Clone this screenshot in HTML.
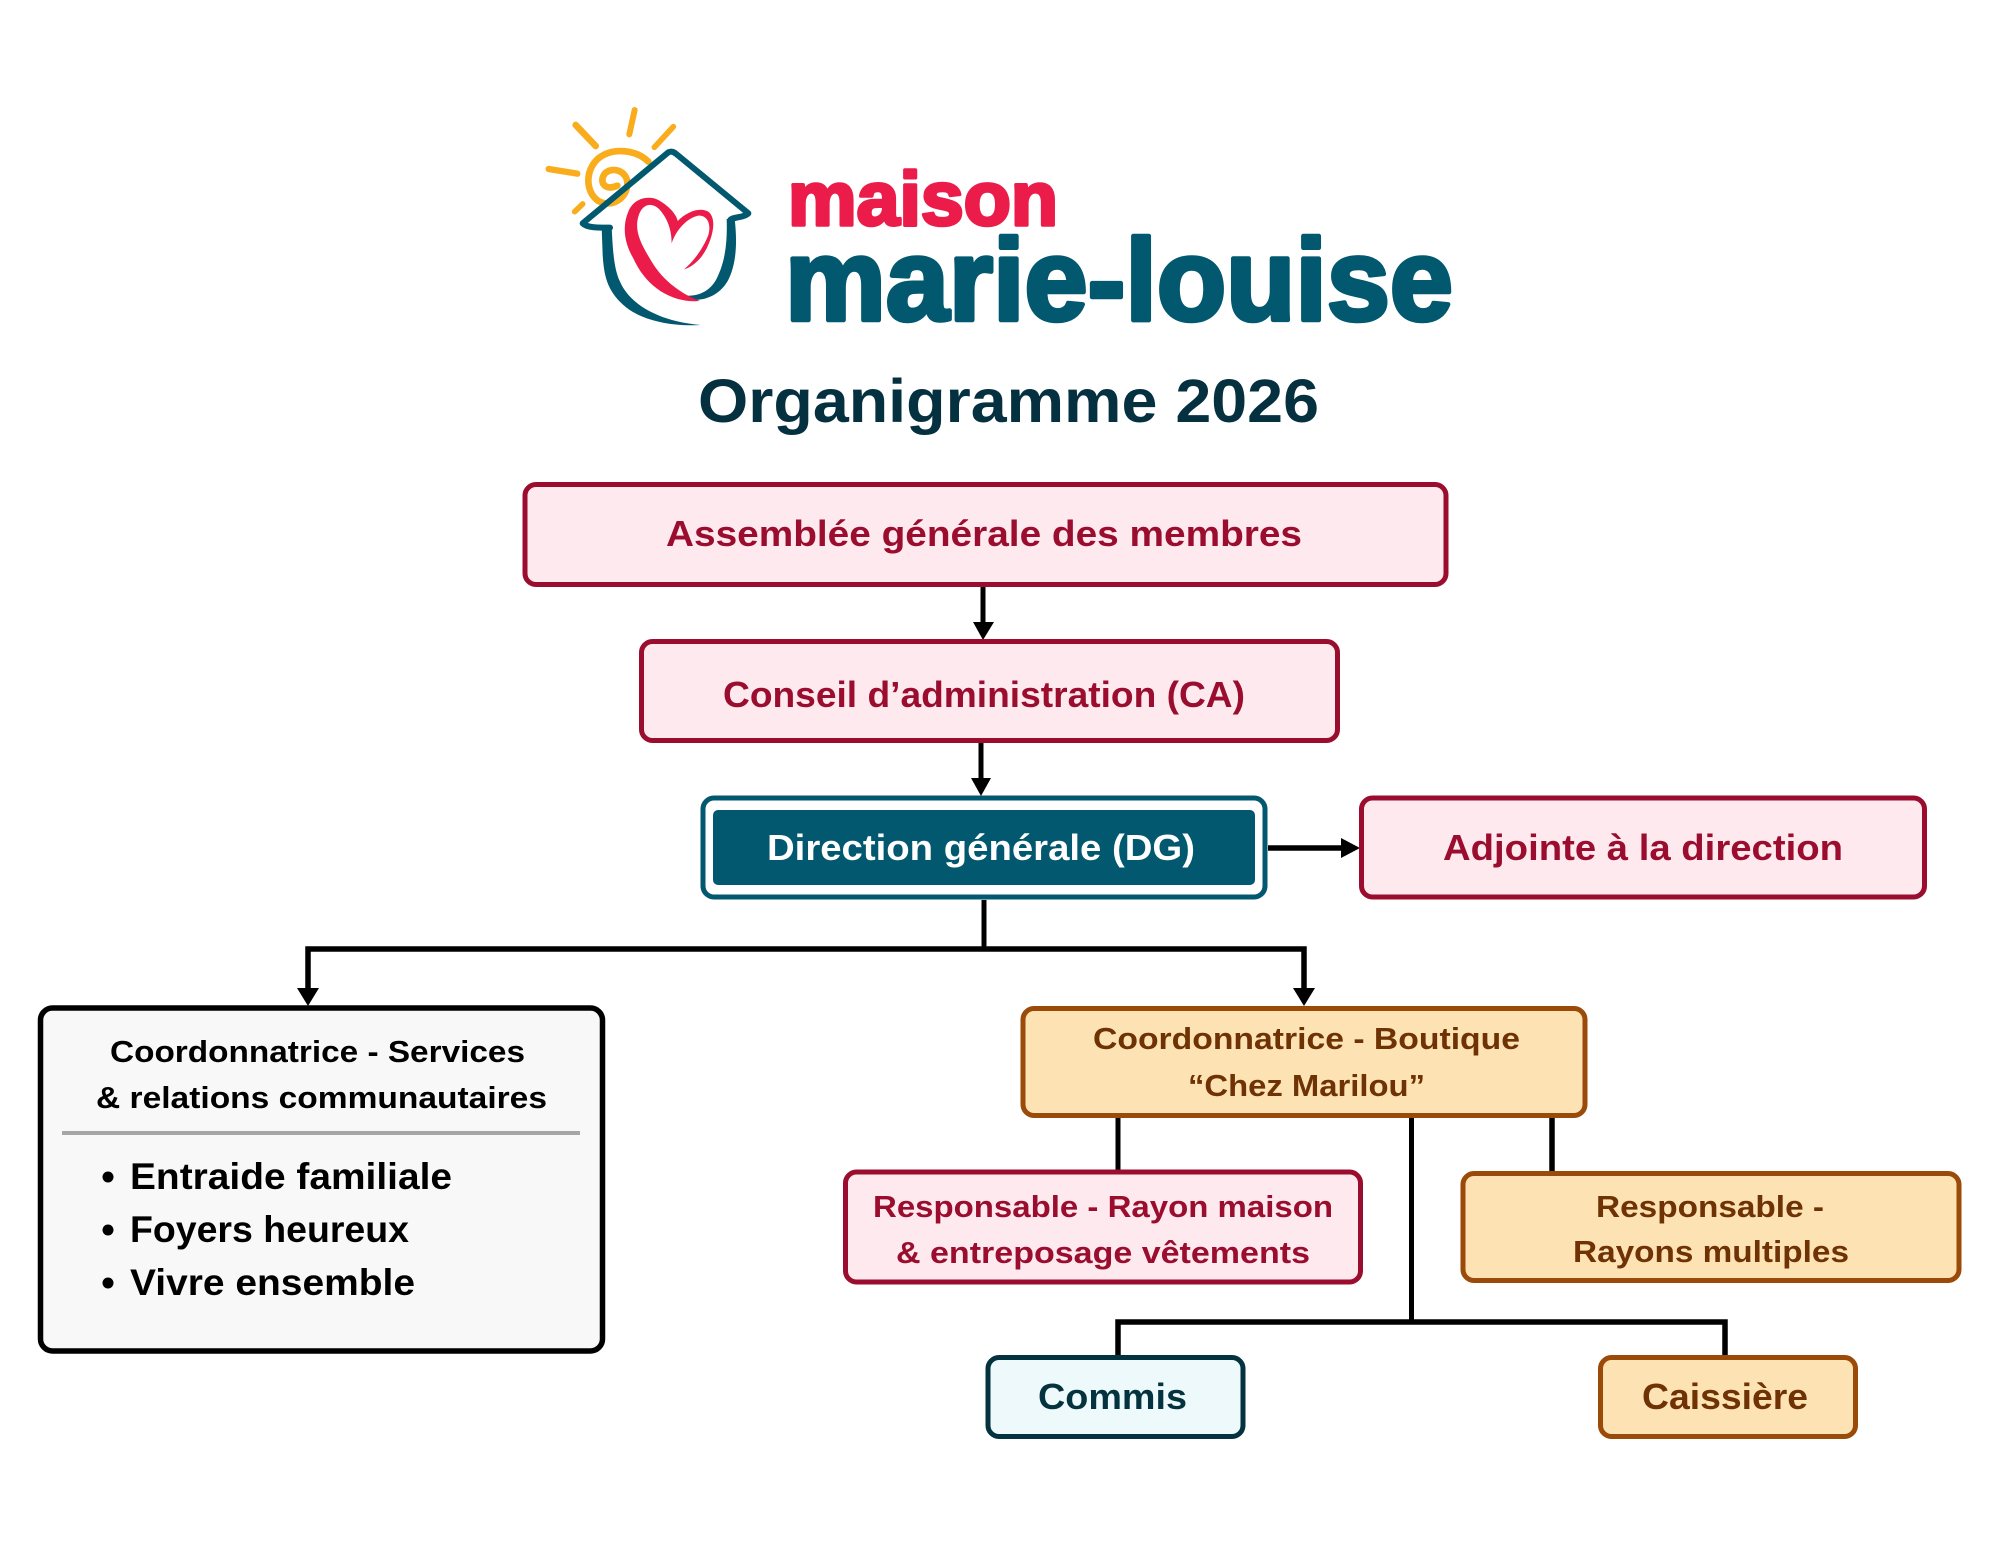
<!DOCTYPE html>
<html lang="fr"><head><meta charset="utf-8"><title>Organigramme 2026</title>
<style>html,body{margin:0;padding:0;background:#fff}svg{display:block}
text{font-family:"Liberation Sans",sans-serif;font-weight:700}</style></head>
<body>
<svg xmlns="http://www.w3.org/2000/svg" width="1999" height="1545" viewBox="0 0 1999 1545">
<rect width="1999" height="1545" fill="#fff"/>
<!-- logo -->
<g transform="translate(530,95) scale(0.33333)">
 <g fill="none" stroke="#f9ad1c" stroke-linecap="round">
  <path d="M137,90L197,153" stroke-width="20"/><path d="M314,45L298,118" stroke-width="18"/>
  <path d="M430,95L373,157" stroke-width="17"/><path d="M56,222L142,236" stroke-width="19"/>
  <path d="M158,327L134,350" stroke-width="17"/>
  <path d="M355,200C320,165 250,155 205,190C165,225 165,290 205,318C245,340 292,310 292,265C292,230 250,212 225,235C205,260 225,290 262,272" stroke-width="20"/>
 </g>
 <path d="M240,398C200,398 170,398 158,385L415,172C425,168 430,170 440,178L655,355C640,370 600,365 600,378" fill="none" stroke="#01586f" stroke-width="18" stroke-linejoin="round" stroke-linecap="round"/>
 <path d="M215,398L245,398C248,450 250,520 270,560C300,630 390,680 512,690C420,695 330,675 280,630C230,585 222,540 218,480Z" fill="#01586f"/>
 <path d="M590,372L614,372C622,440 620,510 592,560C565,604 520,620 470,614L440,598C500,612 545,590 565,540C588,490 592,430 590,372Z" fill="#01586f"/>
 <path d="M510,618C430,625 350,580 310,490C280,440 278,390 295,350C310,310 355,300 385,315C420,335 440,360 443,378C470,350 510,335 535,350C560,370 550,420 530,460C515,490 490,515 462,523C490,500 520,460 535,420C545,385 530,360 505,362C475,368 440,400 425,445C425,410 415,370 385,340C360,320 335,330 325,365C312,410 335,450 365,500C400,560 460,600 510,618Z" fill="#ec1c4a"/>
</g>
<text x="788" y="225" font-size="76" fill="#ec1c4a" textLength="270" lengthAdjust="spacingAndGlyphs" stroke="#ec1c4a" stroke-width="3.5" stroke-linejoin="round">maison</text>
<text x="785" y="320" font-size="116" fill="#01586f" textLength="668" lengthAdjust="spacingAndGlyphs" stroke="#01586f" stroke-width="4.5" stroke-linejoin="round">marie-louise</text>
<text x="698" y="422" font-size="61" fill="#04303f" textLength="621" lengthAdjust="spacingAndGlyphs">Organigramme 2026</text>

<!-- connectors -->
<g fill="none" stroke="#000" stroke-width="5">
 <path d="M983,587V625"/><path d="M981,743V780"/>
 <path d="M1268,848H1342" stroke-width="5.5"/>
 <path d="M984,900V949"/>
 <path d="M308,990V949H1304V990" stroke-width="5.5"/>
 <path d="M1118,1117V1170"/><path d="M1411.5,1116V1322"/><path d="M1552,1117V1171" stroke-width="5.5"/>
 <path d="M1118,1355V1322H1725V1355" stroke-width="5.5"/>
</g>
<g fill="#000">
 <polygon points="973,622 994,622 983,640"/>
 <polygon points="971,778 991,778 981,796"/>
 <polygon points="1341,838 1341,858 1360,848"/>
 <polygon points="297,988 319,988 308,1006"/>
 <polygon points="1293,988 1315,988 1304,1006"/>
</g>

<!-- boxes -->
<g stroke-width="5">
 <rect x="525" y="484.5" width="921" height="100" rx="11" fill="#fee9ee" stroke="#9b0d2e"/>
 <rect x="641.5" y="641.5" width="696" height="99" rx="11" fill="#fee9ee" stroke="#9b0d2e"/>
 <rect x="703" y="798" width="562" height="99" rx="11" fill="#fff" stroke="#01586f"/>
 <rect x="713" y="810" width="542" height="75" rx="5" fill="#01586f" stroke="none"/>
 <rect x="1361.5" y="798" width="563" height="99" rx="11" fill="#fee9ee" stroke="#9b0d2e"/>
 <rect x="40.5" y="1008" width="562" height="343" rx="12" fill="#f8f8f8" stroke="#000" stroke-width="5.5"/>
 <rect x="1023" y="1008.5" width="562" height="107" rx="11" fill="#fde2b3" stroke="#9a4a09"/>
 <rect x="845.5" y="1172" width="515" height="110" rx="11" fill="#fee9ee" stroke="#9b0d2e"/>
 <rect x="1463" y="1173.5" width="496" height="107" rx="11" fill="#fde2b3" stroke="#9a4a09"/>
 <rect x="988" y="1357.5" width="255" height="79" rx="11" fill="#eef9fb" stroke="#04333f"/>
 <rect x="1600.5" y="1357.5" width="255" height="79" rx="11" fill="#fde2b3" stroke="#9a4a09"/>
</g>
<rect x="62" y="1131" width="518" height="4" fill="#a6a6a6"/>

<!-- labels -->
<g font-size="36" fill="#9b0d2e">
 <text x="666" y="546" textLength="636" lengthAdjust="spacingAndGlyphs">Assemblée générale des membres</text>
 <text x="723" y="707" textLength="522" lengthAdjust="spacingAndGlyphs">Conseil d’administration (CA)</text>
 <text x="1443" y="860" textLength="400" lengthAdjust="spacingAndGlyphs">Adjointe à la direction</text>
</g>
<text x="767" y="860" font-size="36" fill="#fff" textLength="428" lengthAdjust="spacingAndGlyphs">Direction générale (DG)</text>
<g font-size="31" fill="#000">
 <text x="110" y="1062" textLength="415" lengthAdjust="spacingAndGlyphs">Coordonnatrice - Services</text>
 <text x="96" y="1108" textLength="451" lengthAdjust="spacingAndGlyphs">&amp; relations communautaires</text>
</g>
<g font-size="37" fill="#000">
 <circle cx="108" cy="1177" r="5.5"/><circle cx="108" cy="1230" r="5.5"/><circle cx="108" cy="1283" r="5.5"/>
 <text x="130" y="1189" textLength="322" lengthAdjust="spacingAndGlyphs">Entraide familiale</text>
 <text x="130" y="1242" textLength="279" lengthAdjust="spacingAndGlyphs">Foyers heureux</text>
 <text x="130" y="1295" textLength="285" lengthAdjust="spacingAndGlyphs">Vivre ensemble</text>
</g>
<g font-size="31" fill="#6f3205">
 <text x="1093" y="1049" textLength="427" lengthAdjust="spacingAndGlyphs">Coordonnatrice - Boutique</text>
 <text x="1188" y="1096" textLength="237" lengthAdjust="spacingAndGlyphs">“Chez Marilou”</text>
 <text x="1596" y="1217" textLength="228" lengthAdjust="spacingAndGlyphs">Responsable -</text>
 <text x="1573" y="1262" textLength="276" lengthAdjust="spacingAndGlyphs">Rayons multiples</text>
</g>
<g font-size="31" fill="#9b0d2e">
 <text x="873" y="1217" textLength="460" lengthAdjust="spacingAndGlyphs">Responsable - Rayon maison</text>
 <text x="896" y="1263" textLength="414" lengthAdjust="spacingAndGlyphs">&amp; entreposage vêtements</text>
</g>
<text x="1038" y="1409" font-size="36" fill="#04333f" textLength="149" lengthAdjust="spacingAndGlyphs">Commis</text>
<text x="1642" y="1409" font-size="36" fill="#6f3205" textLength="166" lengthAdjust="spacingAndGlyphs">Caissière</text>
</svg>
</body></html>
